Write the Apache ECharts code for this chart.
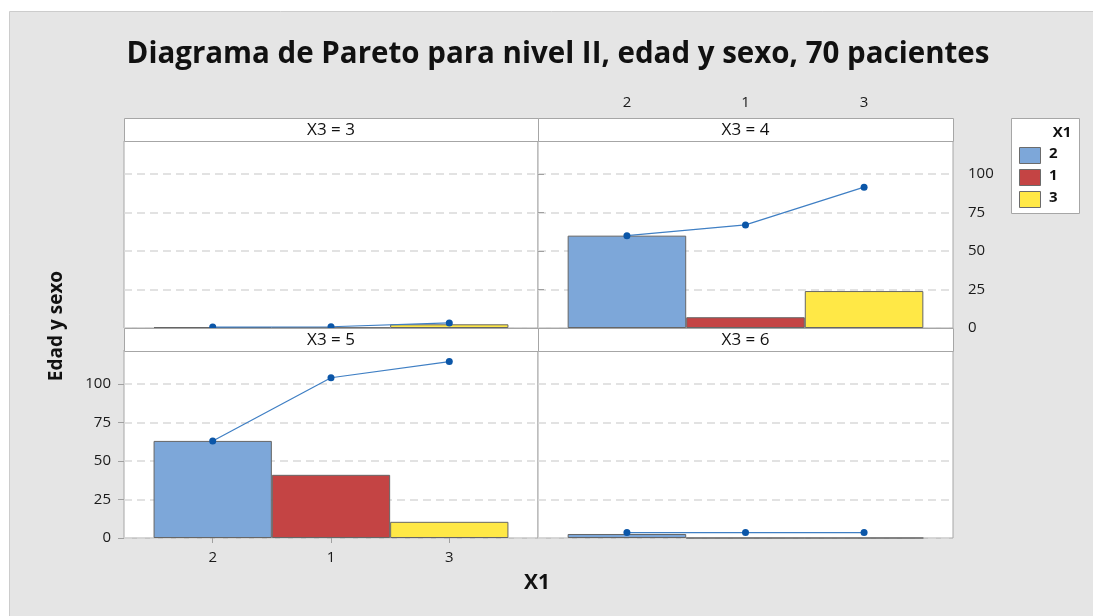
<!DOCTYPE html>
<html>
<head>
<meta charset="utf-8">
<script src="https://cdn.jsdelivr.net/npm/echarts@6/dist/echarts.min.js"></script>
<style>
html,body{margin:0;padding:0;background:#fff;}
#chart{width:1093px;height:616px;}
</style>
</head>
<body>
<div id="chart"></div>
<script>
// ---- data ----
const categories = ['2', '1', '3'];
const panelTitles = ['X3 = 3', 'X3 = 4', 'X3 = 5', 'X3 = 6'];
const countsX3_3 = [0.6, 0.2, 2.4];
const countsX3_4 = [60, 7, 24];
const countsX3_5 = [63, 41, 10.5];
const countsX3_6 = [2.6, 0, 0];
const cumX3_3 = [0.6, 0.8, 3.3];
const cumX3_4 = [60, 67, 91.5];
const cumX3_5 = [63, 104, 114.5];
const cumX3_6 = [3.5, 3.5, 3.5];
const yTicks = [0, 25, 50, 75, 100];
const barColors = ['#7da7d9', '#c44444', '#ffe846'];
const titleText = 'Diagrama de Pareto para nivel II, edad y sexo, 70 pacientes';
const xTitle = 'X1';
const yTitle = 'Edad y sexo';
const legendTitle = 'X1';

const FONT = '"Open Sans", "Noto Sans", sans-serif';
const counts = [countsX3_3, countsX3_4, countsX3_5, countsX3_6];
const cums = [cumX3_3, cumX3_4, cumX3_5, cumX3_6];

const chart = echarts.init(document.getElementById('chart'), null, {renderer: 'canvas'});

const panels = [
  {left: 124, top: 141, width: 414, height: 187, ymax: 121.5, xPos: null, yPos: null},
  {left: 538, top: 141, width: 415, height: 187, ymax: 121.5, xPos: 'top', yPos: 'right'},
  {left: 124, top: 350, width: 414, height: 188, ymax: 122, xPos: 'bottom', yPos: 'left'},
  {left: 538, top: 350, width: 415, height: 188, ymax: 122, xPos: null, yPos: null}
];

const grids = [], xAxes = [], yAxes = [], series = [];
// frame grids (0..3): background, border, y axis, gridlines
panels.forEach((p, i) => {
  grids.push({left: p.left, top: p.top, width: p.width, height: p.height,
    show: true, backgroundColor: '#ffffff', borderColor: '#a6a6a6', borderWidth: 1, z: 0});
  xAxes.push({gridIndex: i, type: 'value', min: 0, max: 1, show: false});
  const yShow = !!p.yPos;
  yAxes.push({
    gridIndex: i, type: 'value', min: 0, max: p.ymax, z: 2,
    position: p.yPos || 'left',
    axisLine: {show: false},
    axisTick: {show: yShow, customValues: yTicks, length: 6, lineStyle: {color: '#a0a0a0'}},
    axisLabel: {show: yShow, customValues: yTicks, margin: p.yPos === 'right' ? 15 : 13,
      color: '#1a1a1a', fontSize: 15, fontFamily: FONT},
    splitLine: {show: true, lineStyle: {color: '#d9d9d9', type: [8, 5], width: 1.5}}
  });
});
// data grids (4..7): inset so that three contiguous bands sit inside each panel
panels.forEach((p, i) => {
  const gi = 4 + i;
  const inset = p.width * 0.25 / 3.5;
  grids.push({left: p.left + inset, top: p.top, width: p.width - 2 * inset, height: p.height, show: false});
  const xShow = !!p.xPos;
  xAxes.push({
    gridIndex: gi, type: 'category', data: categories, boundaryGap: true, z: 2,
    position: p.xPos || 'bottom',
    offset: p.xPos === 'top' ? 23 : 0,
    axisLine: {show: false},
    splitLine: {show: false},
    axisTick: {show: xShow, alignWithLabel: true, length: 5, lineStyle: {color: '#a0a0a0'}},
    axisLabel: {show: xShow, margin: p.xPos === 'top' ? 8 : 12, color: '#1a1a1a', fontSize: 15, fontFamily: FONT}
  });
  yAxes.push({gridIndex: gi, type: 'value', min: 0, max: p.ymax, show: false, splitLine: {show: false}});
  series.push({
    type: 'bar', xAxisIndex: gi, yAxisIndex: gi, z: 3,
    barWidth: '100%', barGap: '0%',
    data: counts[i].map((v, k) => ({value: v, itemStyle: {color: barColors[k]}})),
    itemStyle: {borderColor: '#666666', borderWidth: 1},
    silent: true
  });
  series.push({
    type: 'line', xAxisIndex: gi, yAxisIndex: gi, z: 5,
    data: cums[i],
    symbol: 'circle', symbolSize: 7,
    itemStyle: {color: '#0b56a8'},
    lineStyle: {color: '#3f7fc4', width: 1.2},
    silent: true
  });
});

const graphics = [
  {type: 'rect', z: -100, shape: {x: 9.5, y: 11.5, width: 1090, height: 610},
    style: {fill: '#e5e5e5', stroke: '#cccccc', lineWidth: 1}},
  {type: 'text', z: 10, x: 558, y: 55, style: {text: titleText, fill: '#111', font: 'bold 29.5px ' + FONT,
    textAlign: 'center', textVerticalAlign: 'middle'}},
  {type: 'text', z: 10, x: 537, y: 583, style: {text: xTitle, fill: '#111', font: 'bold 21px ' + FONT,
    textAlign: 'center', textVerticalAlign: 'middle'}},
  {type: 'text', z: 10, x: 57, y: 326, rotation: Math.PI / 2, style: {text: yTitle, fill: '#111', font: 'bold 19px ' + FONT,
    textAlign: 'center', textVerticalAlign: 'middle'}}
];
// strips
const strips = [
  {x: 124, y: 118, w: 414}, {x: 538, y: 118, w: 415},
  {x: 124, y: 328, w: 414}, {x: 538, y: 328, w: 415}
];
strips.forEach((s, i) => {
  graphics.push({type: 'rect', z: 8, shape: {x: s.x + 0.5, y: s.y + 0.5, width: s.w, height: 23},
    style: {fill: '#ffffff', stroke: '#a6a6a6', lineWidth: 1}});
  graphics.push({type: 'text', z: 9, x: s.x + s.w / 2, y: s.y + 12,
    style: {text: panelTitles[i], fill: '#111', font: '17px ' + FONT, textAlign: 'center', textVerticalAlign: 'middle'}});
});
// legend
graphics.push({type: 'rect', z: 8, shape: {x: 1011.5, y: 118.5, width: 68, height: 95},
  style: {fill: '#ffffff', stroke: '#a6a6a6', lineWidth: 1}});
graphics.push({type: 'text', z: 9, x: 1062, y: 133, style: {text: legendTitle, fill: '#111', font: 'bold 15px ' + FONT,
  textAlign: 'center', textVerticalAlign: 'middle'}});
categories.forEach((c, k) => {
  const yy = 147 + k * 22;
  graphics.push({type: 'rect', z: 9, shape: {x: 1019.5, y: yy + 0.5, width: 21, height: 16},
    style: {fill: barColors[k], stroke: '#6b6b6b', lineWidth: 1}});
  graphics.push({type: 'text', z: 9, x: 1049, y: yy + 7, style: {text: c, fill: '#111', font: 'bold 15px ' + FONT,
    textAlign: 'left', textVerticalAlign: 'middle'}});
});

chart.setOption({
  animation: false,
  backgroundColor: '#ffffff',
  grid: grids, xAxis: xAxes, yAxis: yAxes, series: series,
  graphic: {elements: graphics}
});
</script>
</body>
</html>
